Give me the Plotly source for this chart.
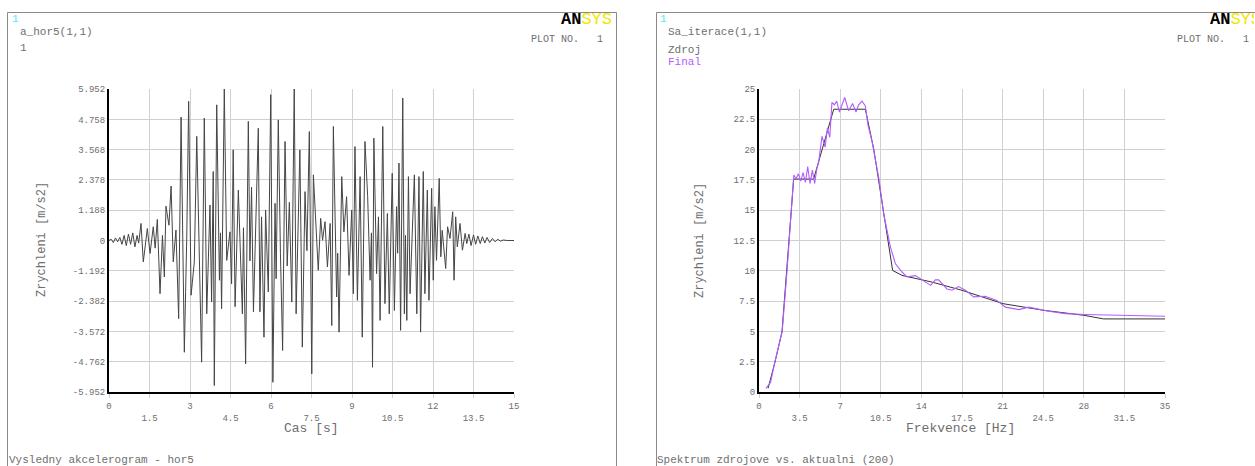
import plotly.graph_objects as go

# ---------------- data: accelerogram (left) ----------------
acc_t = [0.0, 0.08, 0.16, 0.24, 0.32, 0.40, 0.48, 0.56, 0.64, 0.72, 0.80, 0.88, 0.96, 1.04, 1.10,
         1.185, 1.27, 1.42, 1.52, 1.64, 1.71, 1.79, 1.89, 1.98, 2.05, 2.11, 2.22, 2.30, 2.38, 2.48,
         2.58, 2.67, 2.79, 2.88, 2.95, 3.04, 3.16, 3.25, 3.43, 3.53, 3.62, 3.74, 3.80, 3.86, 3.90,
         3.99, 4.09, 4.13, 4.17, 4.27, 4.36, 4.48, 4.54, 4.60, 4.67, 4.79, 4.94, 4.98, 5.06, 5.16,
         5.22, 5.28, 5.35, 5.53, 5.59, 5.65, 5.74, 5.80, 5.90, 5.99, 6.07, 6.15, 6.19, 6.27, 6.35,
         6.43, 6.52, 6.60, 6.68, 6.77, 6.86, 6.93, 7.07, 7.16, 7.26, 7.33, 7.42, 7.51, 7.57, 7.67,
         7.75, 7.84, 7.91, 8.00, 8.09, 8.19, 8.25, 8.31, 8.43, 8.47, 8.52, 8.62, 8.70, 8.80, 8.89,
         8.99, 9.05, 9.11, 9.20, 9.30, 9.38, 9.48, 9.58, 9.67, 9.72, 9.76, 9.81, 9.91, 9.98, 10.04,
         10.14, 10.22, 10.31, 10.38, 10.49, 10.57, 10.65, 10.69, 10.74, 10.80, 10.88, 10.94, 10.98, 11.03, 11.09,
         11.15, 11.31, 11.40, 11.48, 11.54, 11.64, 11.70, 11.79, 11.85, 11.95, 12.01, 12.07, 12.13, 12.23, 12.29,
         12.34, 12.47, 12.54, 12.63, 12.73, 12.78, 12.84, 12.90, 13.00, 13.09, 13.19, 13.25, 13.33, 13.41, 13.50,
         13.58, 13.66, 13.75, 13.83, 13.92, 14.00, 14.10, 14.20, 14.30, 14.40, 14.50, 14.60, 14.75, 15.0]
acc_v = [0.0, 0.05, -0.08, 0.10, -0.05, 0.12, -0.15, 0.20, -0.20, 0.25, -0.15, 0.30, -0.25, 0.20, -0.10,
         0.67, -0.84, 0.47, -0.51, 0.54, -0.30, 0.83, -2.09, 0.20, -1.43, 1.35, 0.60, 2.14, -0.84, 0.41,
         -3.07, 4.85, -4.39, 0.14, 5.47, -2.15, -0.84, 4.09, -4.78, 4.81, -2.88, 1.39, -2.41, 2.71, -5.70,
         5.33, -1.56, 0.30, -2.68, 5.95, -0.78, 0.34, -1.70, 3.56, -2.60, 1.98, -2.88, 0.50, -4.85, 4.68,
         -0.80, 2.10, -2.80, 4.41, -2.80, 0.93, -3.80, 1.20, -2.02, 5.73, -5.57, 1.46, -1.50, 4.74, -0.50,
         -4.32, 3.89, -1.00, 1.50, -2.42, 5.99, -2.88, 3.56, -4.19, 1.92, -0.40, 4.28, -5.24, 2.58, 0.67,
         -1.17, 0.87, 0.01, 0.74, -1.04, 0.67, -3.34, 4.48, -2.22, -0.50, -3.60, 2.51, 0.34, 1.72, -1.37,
         1.20, -2.09, 3.69, -2.35, 2.51, -3.80, 3.89, 1.72, -1.56, 0.30, -4.98, 4.02, -1.30, 0.93, -3.14,
         4.48, -2.48, 1.06, -2.88, 2.64, -2.75, 1.33, -0.50, 3.04, -3.53, 5.60, -2.88, 0.20, -3.14, 2.51,
         -2.09, 2.58, -2.88, 2.51, -3.60, 2.71, -2.09, 1.98, -2.35, 2.05, -1.56, 1.33, -0.78, 2.44, -0.64,
         0.40, -1.10, 0.54, 0.08, 1.13, -1.56, 0.93, -0.25, 0.67, -0.38, 0.28, -0.12, 0.25, -0.20, 0.22,
         -0.15, 0.18, -0.12, 0.15, -0.10, 0.12, -0.08, 0.08, -0.05, 0.05, -0.03, 0.02, 0.0, 0.0]

# ---------------- data: spectra (right) ----------------
zdroj_f = [0.78, 1.35, 1.98, 2.99, 4.71, 6.44, 9.17, 9.9, 11.52, 12.33, 14.91, 17.5, 21.03, 24.54, 27.99, 29.7, 35.0]
zdroj_v = [0.3, 2.36, 4.96, 17.57, 17.57, 23.33, 23.33, 20.0, 10.03, 9.62, 9.07, 8.39, 7.29, 6.74, 6.33, 6.03, 6.03]

final_f = [0.6, 1.0, 1.35, 1.7, 2.0, 2.41, 2.9, 3.0, 3.2, 3.4, 3.6, 3.8, 4.0, 4.2, 4.4, 4.6, 4.8, 5.0, 5.14,
           5.43, 5.7, 5.9, 6.1, 6.29, 6.5, 6.7, 6.93, 7.39, 7.73, 8.07, 8.36, 8.59, 8.88, 9.17, 9.40, 9.74,
           10.32, 10.75, 11.32, 11.75, 12.33, 12.76, 13.48, 14.2, 14.8, 15.2, 15.49, 16.2, 16.64, 17.2, 17.79,
           18.5, 19.5, 20.5, 21.24, 22.4, 23.25, 24.97, 26.4, 28.1, 31.0, 35.0]
final_v = [0.3, 0.8, 2.4, 3.8, 5.0, 9.9, 17.0, 17.9, 17.6, 18.0, 17.4, 18.1, 17.3, 18.6, 17.2, 18.3, 17.2, 18.5, 18.9,
           21.1, 20.2, 21.8, 21.0, 23.9, 23.7, 24.0, 23.1, 24.3, 23.2, 23.8, 23.1, 23.7, 24.0, 23.6, 22.0, 20.7,
           17.7, 14.7, 12.0, 10.6, 9.9, 9.5, 9.6, 9.2, 8.8, 9.25, 9.25, 8.5, 8.4, 8.7, 8.4,
           7.85, 7.9, 7.56, 7.0, 6.8, 7.0, 6.66, 6.47, 6.4, 6.33, 6.25]

# ---------------- tick labels ----------------
left_y_labels = ["5.952", "4.758", "3.568", "2.378", "1.188", "0", "-1.192", "-2.382", "-3.572", "-4.762", "-5.952"]
left_x_labels = ["0", "1.5", "3", "4.5", "6", "7.5", "9", "10.5", "12", "13.5", "15"]
right_y_labels = ["0", "2.5", "5", "7.5", "10", "12.5", "15", "17.5", "20", "22.5", "25"]
right_x_labels = ["0", "3.5", "7", "10.5", "14", "17.5", "21", "24.5", "28", "31.5", "35"]

W, H = 1255, 466
FONT = "Liberation Mono"
GRAY = "#6e6e6e"


def px(x):
    return x / W


def py(y):
    return 1 - y / H


def alt(labels):
    return [lab if i % 2 == 0 else "<br>" + lab for i, lab in enumerate(labels)]


fig = go.Figure()
fig.add_trace(go.Scatter(x=acc_t, y=acc_v, mode="lines", line=dict(color="#454545", width=1),
                         xaxis="x", yaxis="y", showlegend=False, hoverinfo="skip"))
fig.add_trace(go.Scatter(x=zdroj_f, y=zdroj_v, mode="lines", line=dict(color="#333333", width=1),
                         xaxis="x2", yaxis="y2", showlegend=False, name="Zdroj"))
fig.add_trace(go.Scatter(x=final_f, y=final_v, mode="lines", line=dict(color="#b35cff", width=1.1),
                         xaxis="x2", yaxis="y2", showlegend=False, name="Final"))

axis_common = dict(showgrid=True, gridcolor="#d0d0d0", gridwidth=1, zeroline=False,
                   showline=True, linecolor="black", linewidth=2, mirror=False,
                   ticks="outside", ticklen=4, tickcolor="#d0d0d0", automargin=False,
                   tickfont=dict(family=FONT, size=9, color=GRAY), fixedrange=True)

lx = [float(v) for v in left_x_labels]
ly = [float(v) for v in left_y_labels]
rx = [float(v) for v in right_x_labels]
ry = [float(v) for v in right_y_labels]

fig.update_layout(
    template="none",
    width=W, height=H, margin=dict(l=0, r=0, t=0, b=0, pad=0), autosize=False,
    paper_bgcolor="white", plot_bgcolor="white",
    xaxis=dict(axis_common, domain=[px(109), px(514)], range=[lx[0], lx[-1]], anchor="y",
               tickmode="array", tickvals=lx, ticktext=alt(left_x_labels)),
    yaxis=dict(axis_common, domain=[py(392), py(89)], range=[ly[-1], ly[0]], anchor="x",
               tickmode="array", tickvals=ly, ticktext=left_y_labels, ticks=""),
    xaxis2=dict(axis_common, domain=[px(759), px(1165)], range=[rx[0], rx[-1]], anchor="y2",
                tickmode="array", tickvals=rx, ticktext=alt(right_x_labels)),
    yaxis2=dict(axis_common, domain=[py(392), py(89)], range=[ry[0], ry[-1]], anchor="x2",
                tickmode="array", tickvals=ry, ticktext=right_y_labels, ticks=""),
)

# panel frames (left, top, right edges only; kept inside the page)
frame = dict(color="#8a8a8a", width=1)
for x0, x1, right_edge in [(7.5, 616.5, True), (656.5, 1255, False)]:
    fig.add_shape(type="line", xref="paper", yref="paper", x0=px(x0), x1=px(x0), y0=0, y1=py(12.5), line=frame)
    fig.add_shape(type="line", xref="paper", yref="paper", x0=px(x0), x1=px(x1), y0=py(12.5), y1=py(12.5), line=frame)
    if right_edge:
        fig.add_shape(type="line", xref="paper", yref="paper", x0=px(x1), x1=px(x1), y0=0, y1=py(12.5), line=frame)


def text(x, y, s, size=11, color=GRAY, xanchor="left", angle=0, width=None):
    fig.add_annotation(x=px(x), y=py(y), xref="paper", yref="paper", text=s, showarrow=False,
                       xanchor=xanchor, yanchor="middle", textangle=angle, width=width, align="left",
                       font=dict(family=FONT, size=size, color=color))


# left panel texts
text(10, 19, "1", 11, "#55e8f0")
text(18, 32, "a_hor5(1,1)", 11)
text(18, 48, "1", 11)
text(559, 20, "<b>AN</b><span style='color:#f2e600'>SYS</span>", 17, "#000000")
text(605, 40, "PLOT NO.   1", 10, GRAY, xanchor="right")
text(311, 428, "Cas [s]", 13, xanchor="center")
text(7, 460, "Vysledny akcelerogram - hor5", 11)
text(42, 240, "Zrychleni [m/s2]", 12, xanchor="center", angle=-90)

# right panel texts
text(658, 19, "1", 11, "#55e8f0")
text(666, 32, "Sa_iterace(1,1)", 11)
text(666, 50, "Zdroj", 11)
text(666, 62, "Final", 11, "#b35cff")
text(1208, 20, "<b>AN</b><span style='color:#f2e600'>SYS</span>", 17, "#000000", width=44)
text(1251, 40, "PLOT NO.   1", 10, GRAY, xanchor="right")
text(960, 428, "Frekvence [Hz]", 13, xanchor="center")
text(655, 460, "Spektrum zdrojove vs. aktualni (200)", 11)
text(700, 240, "Zrychleni [m/s2]", 12, xanchor="center", angle=-90)

fig.write_html("out.html", config={"responsive": False, "displayModeBar": False},
               post_script="document.body.style.margin='0';document.body.style.overflow='hidden';")
